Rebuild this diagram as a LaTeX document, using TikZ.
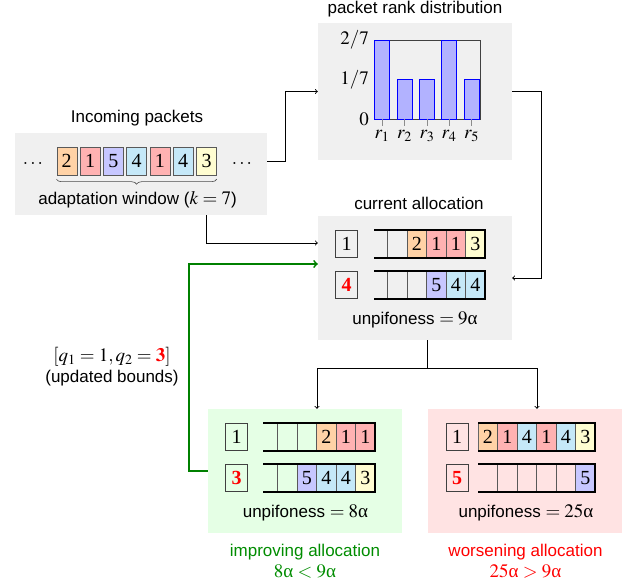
\documentclass[tikz,border=0pt]{standalone}
\usepackage{mathptmx}
\usepackage[no-math]{fontspec}
\setmainfont{Liberation Sans}
\newfontfamily\serifnum{Liberation Serif}
\usetikzlibrary{decorations.pathreplacing}
\colorlet{c1}{red!30}
\colorlet{c2}{orange!35}
\colorlet{c3}{yellow!18}
\definecolor{c4}{RGB}{197,232,248}
\colorlet{c5}{blue!22}
\colorlet{gtext}{green!55!black}
\newcommand{\mth}[1]{{\fontsize{19}{22}\selectfont$#1$}}
\newcommand{\ual}{\mathord{\hbox{\serifnum α}}}
\newcommand{\qrow}[5]{%
  \coordinate (#1-l) at (#2,#4);
  \coordinate (#1-r) at (#3,#4);
  \foreach \v [count=\i] in {#5} {
    \node[qc, fill=c\v] (#1-\i) at ([xshift={-(\i-0.5)*19.5pt}]#1-r) {\v};
  }
  \foreach \k in {1,...,5}
    \draw[qdiv] ([xshift={-\k*19.5pt}, yshift=14pt]#1-r) -- ([xshift={-\k*19.5pt}, yshift=-14pt]#1-r);
  \draw[qline] ([yshift=14pt]#1-l) -- ([yshift=14pt]#1-r) -- ([yshift=-14pt]#1-r) -- ([yshift=-14pt]#1-l);
}
\begin{document}
\begin{tikzpicture}[x=1pt,y=-1pt,
  txt/.style={font=\fontsize{17}{21}\selectfont, inner sep=0, align=center},
  panel/.style={fill=black!6, minimum width=194, minimum height=124, inner sep=0},
  icell/.style={draw=black!65, minimum width=20, minimum height=28, inner sep=0, font=\fontsize{20}{20}\serifnum},
  qc/.style={minimum width=19.5, minimum height=28, inner sep=0, draw=black!60, font=\fontsize{20}{20}\serifnum},
  rank/.style={draw=black!75, minimum width=22, minimum height=27, inner sep=0, font=\fontsize{20}{20}\serifnum},
  qline/.style={line width=1.6pt, black},
  qdiv/.style={line width=0.7pt, black!65},
  conn/.style={line width=0.9pt, black},
  arr/.style={conn, ->},
  garr/.style={line width=1.8pt, green!50!black, ->},
  bar/.style={fill=blue!30, draw=blue, line width=0.7pt},
]
\useasboundingbox (0,0) rectangle (633,586);

% panels
\node[panel, minimum width=252, minimum height=82] (inbox) at (141,174) {};
\node[panel, minimum height=137] (hist) at (415,91.5) {};
\node[panel] (cur) at (415,278) {};
\node[panel, fill=green!10] (impr) at (305,471) {};
\node[panel, fill=red!11] (wors) at (525,471) {};

% incoming packets
\node[txt] (tin) at (137,118) {Incoming packets};
\foreach \v [count=\i] in {2,1,5,4,1,4,3}
  \node[icell, fill=c\v] (in\i) at ({66.7+(\i-1)*23.3},161) {\v};
\node[txt] (dl) at (33,164) {\mth{\dots}};
\node[txt] (dr) at (242,164) {\mth{\dots}};
\draw[black!70, line width=0.6pt, decorate, decoration={brace, mirror, amplitude=5pt}] (in1.south west) ++(0,4) -- ([yshift=-4pt]in7.south east);
\node[txt] (tadapt) at (137.5,200) {adaptation window (\mth{k=7})};

% histogram
\node[txt] (thist) at (415,9) {packet rank distribution};
\draw[black!75, line width=0.6pt] (374,40) rectangle (480,119);
\foreach \x/\h [count=\i] in {382/2,404.5/1,427/1,449/2,471.5/1} {
  \draw[bar] (\x-7.5,119) rectangle (\x+7.5,{119-39.5*\h});
  \draw[black!45, line width=0.6pt] (\x,119) -- (\x,126);
  \node[txt] (r\i) at (\x,136) {\mth{r_{\i}}};
}
\node[txt, anchor=east] (y2) at (369,40) {\mth{2/7}};
\node[txt, anchor=east] (y1) at (369,80) {\mth{1/7}};
\node[txt, anchor=east] (y0) at (369,119) {\mth{0}};

% current allocation
\node[txt] (tcur) at (419,203) {current allocation};
\node[rank] (cq1) at (346.5,244) {1};
\node[rank] (cq2) at (346.5,285) {\textcolor{red}{\bfseries 4}};
\qrow{cur1}{374}{485}{244}{3,1,1,2}
\qrow{cur2}{374}{485}{285}{4,4,5}
\node[txt] (ucur) at (415,320) {unpifoness \mth{=9\ual}};

% improving
\node[rank] (iq1) at (236.5,437) {1};
\node[rank] (iq2) at (236.5,478) {\textcolor{red}{\bfseries 3}};
\qrow{imp1}{263}{375}{437}{1,1,2}
\qrow{imp2}{263}{375}{478}{3,4,4,5}
\node[txt] (uimp) at (305.5,513) {unpifoness \mth{=8\ual}};
\node[txt, text=gtext] (limp) at (305,561) {improving allocation\\\mth{8\ual<9\ual}};

% worsening
\node[rank] (wq1) at (457,437) {1};
\node[rank] (wq2) at (457,478) {\textcolor{red}{\bfseries 5}};
\qrow{wor1}{478}{595}{437}{3,4,1,4,1,2}
\qrow{wor2}{478}{595}{478}{5}
\node[txt] (uwor) at (526,513) {unpifoness \mth{=25\ual}};
\node[txt, text=red] (lwor) at (525.5,561) {worsening allocation\\\mth{25\ual>9\ual}};

% bounds label
\node[txt] (bounds) at (112,367) {\mth{[q_1=1,q_2=\textcolor{red}{\mathbf{3}}]}\\(updated bounds)};

% connectors
\draw[arr] ([yshift=13pt]inbox.east) -- ++(18,0) |- (hist.west);
\draw[arr] (hist.east) -- ++(29,0) |- (cur.east);
\draw[arr] ([xshift=65pt]inbox.south) |- ([yshift=35pt]cur.west);
\draw[garr] (impr.west) -- ++(-19,0) |- ([yshift=14pt]cur.west);
\draw[conn] ([xshift=12pt]cur.south) -- ++(0,28) coordinate (split);
\draw[arr] (split) -| ([xshift=12pt]impr.north);
\draw[arr] (split) -| ([xshift=12pt]wors.north);
\end{tikzpicture}
\end{document}
